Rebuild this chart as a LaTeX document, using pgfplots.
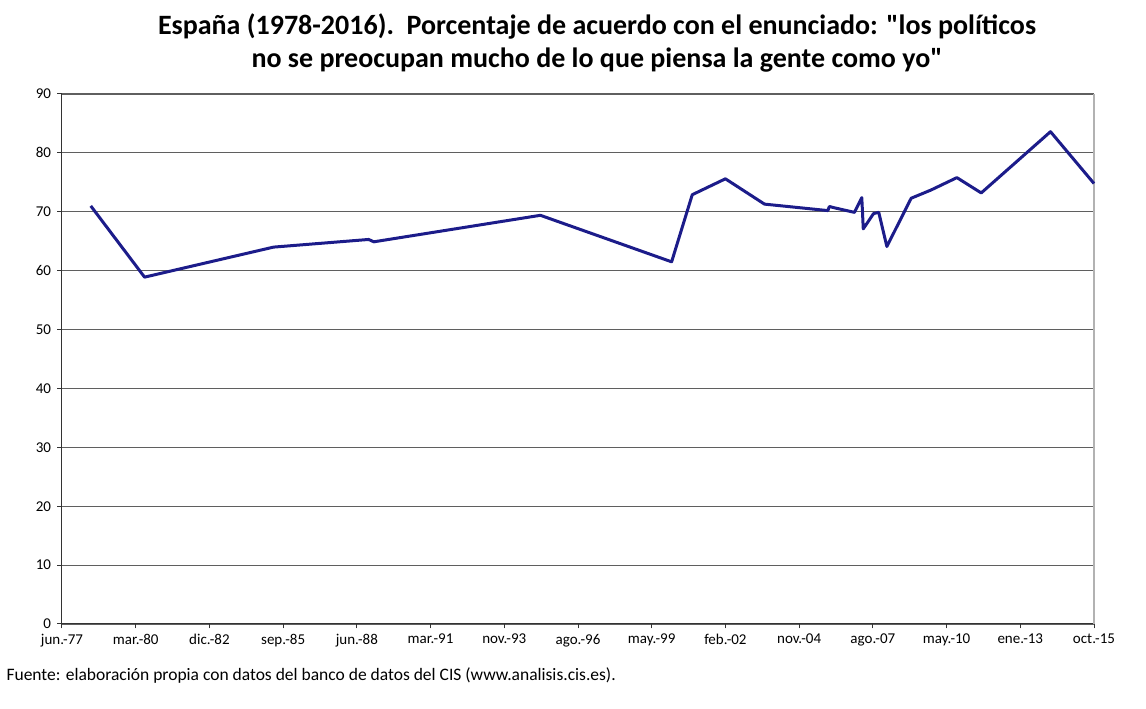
\documentclass[border=0pt]{standalone}
\usepackage{pgfplots}
\pgfplotsset{compat=1.18}
\usepackage{fontspec}
\setmainfont{Carlito}
\definecolor{linea}{RGB}{28,28,138}
\definecolor{rejilla}{RGB}{95,95,95}

% x en unidades de 1000 dias desde jun.-77
\pgfplotstableread{
x      y
0.39   71.0
1.12   58.9
2.87   64.0
4.16   65.3
4.23   64.9
6.49   69.4
8.27   61.5
8.55   72.9
9.00   75.6
9.53   71.3
10.39  70.2
10.41  70.9
10.47  70.7
10.75  69.9
10.85  72.4
10.87  67.1
11.01  69.7
11.08  69.9
11.19  64.1
11.52  72.3
11.79  73.7
12.14  75.8
12.47  73.2
13.41  83.6
14.00  74.8
}\datos

\begin{document}
\begin{tikzpicture}
\begin{axis}[
    scale only axis, width=1032pt, height=530pt,
    xmin=0, xmax=14, ymin=0, ymax=90,
    xtick={0,...,14},
    xticklabels={jun.-77,mar.-80,dic.-82,sep.-85,jun.-88,mar.-91,nov.-93,ago.-96,may.-99,feb.-02,nov.-04,ago.-07,may.-10,ene.-13,oct.-15},
    ytick={0,10,...,90},
    axis x line*=bottom, axis y line*=left,
    axis line style={line width=1pt, black!80, -},
    tick align=outside, major tick length=4.5pt,
    tick style={line width=1pt, black!80},
    ymajorgrids, grid style={line width=1.2pt, rejilla},
    tick label style={font=\fontsize{15}{17}\selectfont},
    xticklabel style={yshift=-2pt},
    yticklabel style={xshift=-3pt},
    /pgf/number format/assume math mode=true,
    clip=false,
]
\coordinate (o) at (rel axis cs:0,0);
\draw[line width=1.5pt, black!30] (rel axis cs:1,0) -- (rel axis cs:1,1);
\addplot[linea, line width=3pt, line join=round] table[x=x, y=y] {\datos};
\end{axis}
\path ([shift={(-62pt,-85pt)}]o) rectangle ([shift={(1084pt,624pt)}]o);
\node[anchor=base, font=\fontsize{28}{32}\selectfont\bfseries] at ([shift={(535pt,589pt)}]o)
  {España (1978-2016).\ \ Porcentaje de acuerdo con el enunciado: \textquotedbl los políticos};
\node[anchor=base, font=\fontsize{28}{32}\selectfont\bfseries] at ([shift={(535pt,556pt)}]o)
  {no se preocupan mucho de lo que piensa la gente como yo\textquotedbl};
\node[anchor=base west, font=\fontsize{17.5}{20}\selectfont] at ([shift={(-59pt,-57pt)}]o)
  {Fuente: elaboración propia con datos del banco de datos del CIS (www.analisis.cis.es).};
\end{tikzpicture}
\end{document}
